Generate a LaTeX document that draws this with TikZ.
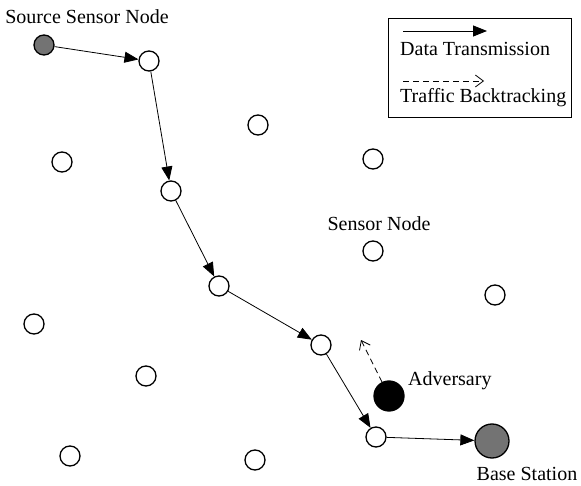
\documentclass[tikz,border=0pt]{standalone}
\usepackage{fontspec}
\setmainfont{Liberation Serif}
\usetikzlibrary{arrows.meta}
\begin{document}
\begin{tikzpicture}[x=1pt,y=-1pt,
  sn/.style={circle,draw,line width=1.3pt,fill=white,minimum size=20pt,inner sep=0pt},
  srcn/.style={sn,fill=black!55},
  bsn/.style={circle,draw,line width=1.3pt,fill=black!55,minimum size=34pt,inner sep=0pt},
  advn/.style={circle,draw,line width=1.3pt,fill=black,minimum size=30pt,inner sep=0pt},
  lbl/.style={font=\fontsize{20}{22}\selectfont,inner sep=0pt},
  data/.style={line width=0.8pt,-{Triangle[length=14pt,width=11pt]}},
  back/.style={line width=0.8pt,dashed,dash pattern=on 6pt off 4pt,-{Straight Barb[length=8pt,width=12pt,line width=0.8pt]}}]
\useasboundingbox (0,0) rectangle (581,486);
% nodes on path
\node[srcn] (s) at (44,45) {};
\node[sn] (n1) at (149,61) {};
\node[sn] (n2) at (171,191) {};
\node[sn] (n3) at (219,286) {};
\node[sn] (n4) at (321,345) {};
\node[sn] (n5) at (376,437) {};
\node[bsn] (bs) at (492,441) {};
\node[advn] (adv) at (389,396) {};
% other nodes
\node[sn] (o1) at (258,125) {};
\node[sn] (o2) at (62,162) {};
\node[sn] (o3) at (373,159) {};
\node[sn] (o4) at (373,251) {};
\node[sn] (o5) at (495,295) {};
\node[sn] (o6) at (34,324) {};
\node[sn] (o7) at (146,376) {};
\node[sn] (o8) at (70,456) {};
\node[sn] (o9) at (255,460) {};
% path arrows
\draw[data] (s) -- (n1);
\draw[data] (n1) -- (n2);
\draw[data] (n2) -- (n3);
\draw[data] (n3) -- (n4);
\draw[data] (n4) -- (n5);
\draw[data] (n5) -- (bs);
\coordinate (bt) at (361,340);
\draw[back] (adv) -- (bt);
% labels
\node[lbl] (ls) at (87,17) {Source Sensor Node};
\node[lbl] (lsn) at (379,224) {Sensor Node};
\node[lbl,anchor=west] (ladv) at (408,381) {Adversary};
\node[lbl] (lbs) at (527,474) {Base Station};
% legend
\node[draw,line width=0.8pt,minimum width=183pt,minimum height=99pt,inner sep=0pt] (leg) at (479.5,67.5) {};
\coordinate (l1a) at (403,31);
\coordinate (l1b) at (487,31);
\draw[data] (l1a) -- (l1b);
\node[lbl,anchor=west] (ld) at (400,49) {Data Transmission};
\coordinate (l2a) at (403,81);
\coordinate (l2b) at (484,81);
\draw[back] (l2a) -- (l2b);
\node[lbl,anchor=west] (lt) at (400,98) {Traffic Backtracking};
\end{tikzpicture}
\end{document}
